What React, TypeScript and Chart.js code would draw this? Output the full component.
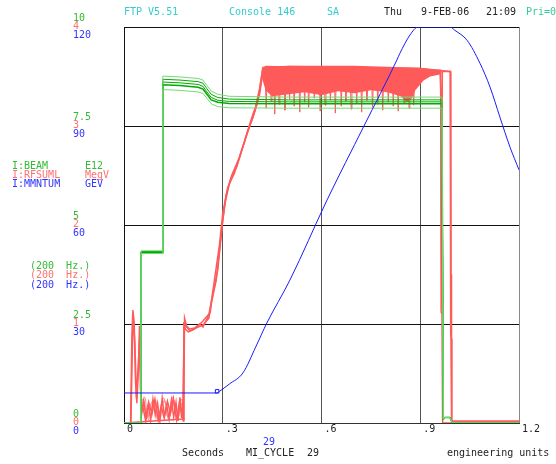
import React, { useEffect, useRef } from 'react';
import { Chart, registerables } from 'chart.js';

Chart.register(...registerables);

// ---------- axis ticks ----------
const xTickVals = [0, 0.3, 0.6, 0.9, 1.2];
const xTickLabels = ['0', '.3', '.6', '.9', '1.2'];
const beamTickVals = [0, 2.5, 5, 7.5, 10];
const beamTickLabels = ['0', '2.5', '5', '7.5', '10'];
const rfTickVals = [0, 1, 2, 3, 4];
const rfTickLabels = ['0', '1', '2', '3', '4'];
const momTickVals = [0, 30, 60, 90, 120];
const momTickLabels = ['0', '30', '60', '90', '120'];

// ---------- I:MMNTUM (GeV) ----------
const momT = [0, 0.28, 0.29, 0.3, 0.32, 0.3615, 0.4, 0.434, 0.504, 0.617, 0.729, 0.829, 0.838, 0.869, 0.893, 0.99, 1.005, 1.042, 1.0815, 1.112, 1.142, 1.1727, 1.2];
const momV = [9.1, 9.1, 9.6, 10.3, 11.8, 15.2, 23, 30.3, 43.3, 67.6, 90, 110, 112, 117.6, 120, 120, 119, 116, 109, 101.8, 92.7, 83.6, 76.7];
const momMarkT = [0.283];
const momMarkV = [9.6];

// ---------- I:BEAM (E12) ----------
const beamT = [0, 0.051, 0.052, 0.117, 0.118, 0.17, 0.225, 0.24, 0.252, 0.265, 0.285, 0.32, 0.5, 0.7, 0.9, 0.966, 0.97, 0.975, 0.99, 0.998, 1.2];
const beamA = [0, 0, 4.35, 4.35, 8.76, 8.74, 8.7, 8.66, 8.52, 8.38, 8.3, 8.25, 8.23, 8.23, 8.23, 8.23, 0.1, 0.14, 0.14, 0, 0];
const beamB = [0, 0, 4.33, 4.33, 8.68, 8.66, 8.62, 8.58, 8.44, 8.3, 8.22, 8.18, 8.16, 8.16, 8.16, 8.16, 0.1, 0.14, 0.14, 0, 0];
const beamC = [0, 0, 4.31, 4.31, 8.61, 8.59, 8.55, 8.5, 8.36, 8.22, 8.15, 8.12, 8.11, 8.11, 8.11, 8.11, 0.1, 0.14, 0.14, 0, 0];
const beamD = [0, 0, 4.3, 4.3, 8.54, 8.52, 8.48, 8.43, 8.3, 8.16, 8.1, 8.07, 8.06, 8.06, 8.06, 8.06, 0.1, 0.14, 0.14, 0, 0];
const beamE = [0, 0, 4.28, 4.28, 8.42, 8.4, 8.36, 8.32, 8.2, 8.06, 7.99, 7.96, 7.95, 7.95, 7.95, 7.95, 0.1, 0.14, 0.14, 0, 0];

// ---------- I:RFSUML (MegV) ----------
const rfStartT1 = [0, 0.02, 0.024, 0.027, 0.031, 0.035, 0.039, 0.044, 0.047, 0.05, 0.054, 0.06, 0.067, 0.074, 0.081, 0.088, 0.095, 0.102, 0.109, 0.116, 0.123, 0.13, 0.137, 0.144, 0.151, 0.158, 0.164, 0.17, 0.175, 0.179, 0.181, 0.184, 0.19, 0.2, 0.215, 0.23, 0.24, 0.262, 0.267, 0.28, 0.298, 0.307, 0.322, 0.343, 0.374, 0.392, 0.407, 0.416, 0.422];
const rfStartV1 = [0, 0, 0.9, 1.14, 1.0, 0.42, 0.2, 0.55, 0.98, 0.35, 0.1, 0.22, 0.05, 0.19, 0.03, 0.24, 0.08, 0.2, 0.02, 0.25, 0.07, 0.18, 0.04, 0.23, 0.06, 0.21, 0.02, 0.26, 0.05, 0.2, 0.04, 1.06, 0.98, 0.95, 0.96, 1.0, 0.97, 1.12, 1.24, 1.44, 1.99, 2.22, 2.45, 2.59, 2.93, 3.09, 3.26, 3.45, 3.59];
const rfPlatT1 = [0.5, 0.7, 0.9, 0.95];
const rfPlatV1 = [3.6, 3.59, 3.58, 3.56];
const rfEndT1 = [0.962, 0.9635, 0.966, 0.968, 1.2];
const rfEndV1 = [3.56, 1.12, 1.1, 0, 0];

const rfStartT2 = [0, 0.021, 0.025, 0.028, 0.033, 0.038, 0.045, 0.048, 0.052, 0.058, 0.066, 0.075, 0.085, 0.094, 0.104, 0.113, 0.122, 0.132, 0.141, 0.15, 0.16, 0.168, 0.176, 0.18, 0.182, 0.186, 0.195, 0.21, 0.225, 0.24, 0.258, 0.27, 0.285, 0.3, 0.31, 0.327, 0.35, 0.38, 0.398, 0.412, 0.42, 0.425];
const rfStartV2 = [0, 0, 0.7, 1.1, 0.8, 0.25, 0.7, 0.9, 0.2, 0.15, 0.02, 0.21, 0.09, 0.24, 0.03, 0.17, 0.05, 0.22, 0.1, 0.25, 0.03, 0.2, 0.08, 0.02, 1.02, 0.95, 0.92, 0.94, 0.98, 1.03, 1.1, 1.3, 1.55, 2.05, 2.3, 2.5, 2.68, 2.98, 3.15, 3.32, 3.5, 3.58];
const rfPlatT2 = [0.5, 0.7, 0.9, 0.96];
const rfPlatV2 = [3.6, 3.6, 3.58, 3.56];
const rfEndT2 = [0.991, 0.9925, 0.994, 0.996, 1.2];
const rfEndV2 = [3.55, 0.9, 0.85, 0.01, 0.01];

const rfT3 = [0, 0.178, 0.183, 0.2, 0.24, 0.258, 0.272, 0.29, 0.3, 0.315, 0.335, 0.36, 0.385, 0.4, 0.412, 0.42, 0.43, 0.96, 0.964, 0.9655, 0.967, 0.992, 0.9935, 0.995, 1.2];
const rfV3 = [0, 0.04, 1.0, 0.93, 0.99, 1.06, 1.38, 1.8, 2.12, 2.38, 2.52, 2.78, 3.05, 3.2, 3.38, 3.55, 3.6, 3.56, 3.2, 1.15, 3.55, 3.55, 1.5, 0.02, 0.02];

const rfLoopT = [0.05, 0.058, 0.066, 0.072, 0.08, 0.09, 0.098, 0.105, 0.112, 0.12, 0.128, 0.135, 0.142, 0.15, 0.157, 0.165, 0.172, 0.178, 0.183];
const rfLoopV = [0.15, 0.24, 0.12, 0.05, 0.18, 0.22, 0.08, 0.02, 0.14, 0.25, 0.16, 0.04, 0.1, 0.23, 0.18, 0.06, 0.21, 0.12, 0.03];
const rfLoopT2 = [0.05, 0.056, 0.063, 0.07, 0.078, 0.086, 0.094, 0.101, 0.109, 0.117, 0.124, 0.132, 0.14, 0.147, 0.155, 0.162, 0.17, 0.176, 0.182];
const rfLoopV2 = [0.05, 0.2, 0.26, 0.1, 0.02, 0.16, 0.24, 0.12, 0.04, 0.2, 0.22, 0.07, 0.15, 0.26, 0.1, 0.03, 0.18, 0.24, 0.08];

// dense flat-top envelope and its downward spikes
const rfBandT = [0.418, 0.43, 0.45, 0.5, 0.55, 0.6, 0.65, 0.7, 0.75, 0.8, 0.84, 0.86, 0.875, 0.885, 0.9, 0.91, 0.93, 0.96];
const rfBandHi = [3.58, 3.6, 3.6, 3.6, 3.6, 3.6, 3.6, 3.59, 3.59, 3.59, 3.58, 3.58, 3.58, 3.58, 3.57, 3.57, 3.56, 3.56];
const rfBandLo = [3.5, 3.36, 3.3, 3.32, 3.34, 3.31, 3.35, 3.33, 3.36, 3.34, 3.3, 3.24, 3.28, 3.36, 3.42, 3.46, 3.5, 3.52];
const rfSpikeT = [0.432, 0.447, 0.458, 0.471, 0.489, 0.503, 0.517, 0.534, 0.549, 0.561, 0.578, 0.596, 0.611, 0.627, 0.642, 0.66, 0.674, 0.69, 0.707, 0.722, 0.738, 0.755, 0.771, 0.786, 0.803, 0.818, 0.833, 0.851, 0.866, 0.88];
const rfSpikeV = [3.18, 3.25, 3.12, 3.22, 3.16, 3.27, 3.2, 3.14, 3.24, 3.19, 3.28, 3.15, 3.21, 3.26, 3.13, 3.2, 3.25, 3.17, 3.23, 3.14, 3.26, 3.19, 3.22, 3.16, 3.24, 3.2, 3.15, 3.23, 3.18, 3.21];

// ---------- colours ----------
const TEAL = '#33cccc';
const GREEN_TXT = '#33bb33';
const RED_TXT = '#ff7070';
const BLUE_TXT = '#3333ff';
const DARK = '#222222';
const GREEN_DARK = '#00aa00';
const GREEN_LIGHT = '#77d877';
const RED_LINE = '#ff5a5a';
const RED_LIGHT = '#ff8080';
const BLUE_LINE = '#1a1aff';
const FONT = '10px "DejaVu Sans Mono", monospace';

const zip = (t: number[], v: number[]) => t.map((x, i) => ({ x, y: v[i] }));
const spikes = (t: number[], v: number[], base: number, half: number) =>
  t.flatMap((x, i) => [
    { x: x - half, y: base },
    { x, y: v[i] },
    { x: x + half, y: base },
  ]);

const textPlugin = {
  id: 'acnetTexts',
  afterDraw(chart: any) {
    const ctx = chart.ctx as CanvasRenderingContext2D;
    ctx.save();
    ctx.font = FONT;
    ctx.textBaseline = 'middle';
    ctx.textAlign = 'left';
    const put = (s: string, x: number, y: number, c: string) => {
      ctx.fillStyle = c;
      ctx.fillText(s, x, y);
    };
    // header
    put('FTP V5.51', 124, 12, TEAL);
    put('Console 146', 229, 12, TEAL);
    put('SA', 327, 12, TEAL);
    put('Thu', 384, 12, DARK);
    put('9-FEB-06', 421, 12, DARK);
    put('21:09', 486, 12, DARK);
    put('Pri=0', 526, 12, '#33cc99');

    // stacked y tick labels
    const yB = chart.scales.yB;
    const yR = chart.scales.yR;
    const yM = chart.scales.yM;
    beamTickVals.forEach((v, i) => put(beamTickLabels[i], 73, yB.getPixelForValue(v) - 8.5, GREEN_TXT));
    rfTickVals.forEach((v, i) => put(rfTickLabels[i], 73, yR.getPixelForValue(v) - 0.5, RED_TXT));
    momTickVals.forEach((v, i) => put(momTickLabels[i], 73, yM.getPixelForValue(v) + 8.5, BLUE_TXT));

    // legend
    put('I:BEAM', 12, 166, GREEN_TXT);
    put('E12', 85, 166, GREEN_TXT);
    put('I:RFSUML', 12, 175, RED_TXT);
    put('MegV', 85, 175, RED_TXT);
    put('I:MMNTUM', 12, 184, BLUE_TXT);
    put('GEV', 85, 184, BLUE_TXT);

    put('(200  Hz.)', 30, 266, GREEN_TXT);
    put('(200  Hz.)', 30, 275.5, RED_TXT);
    put('(200  Hz.)', 30, 285, BLUE_TXT);

    // footer
    put('29', 263, 442, BLUE_TXT);
    put('Seconds', 182, 453, DARK);
    put('MI_CYCLE', 246, 453, DARK);
    put('29', 307, 453, DARK);
    put('engineering units', 447, 453, DARK);
    ctx.restore();
  },
};

const line = (data: any[], color: string, yAxisID: string, extra: any = {}) => ({
  data,
  borderColor: color,
  backgroundColor: color,
  borderWidth: 1,
  pointRadius: 0,
  tension: 0,
  fill: false,
  yAxisID,
  ...extra,
});

export default function App() {
  const ref = useRef<HTMLCanvasElement>(null);

  useEffect(() => {
    if (!ref.current) return;
    const datasets: any[] = [
      line(zip(momT, momV), BLUE_LINE, 'yM', { cubicInterpolationMode: 'monotone' }),
      line(zip(momMarkT, momMarkV), BLUE_LINE, 'yM', { pointRadius: 2.5, pointStyle: 'rect', pointBorderWidth: 1, pointBackgroundColor: 'rgba(0,0,0,0)', showLine: false }),
      line(zip(beamT, beamA), GREEN_LIGHT, 'yB'),
      line(zip(beamT, beamE), GREEN_LIGHT, 'yB'),
      line(zip(beamT, beamB), GREEN_DARK, 'yB'),
      line(zip(beamT, beamC), GREEN_DARK, 'yB'),
      line(zip(beamT, beamD), GREEN_DARK, 'yB', { borderWidth: 1.5 }),
      line([...zip(rfStartT1, rfStartV1), ...zip(rfPlatT1, rfPlatV1), ...zip(rfEndT1, rfEndV1)], RED_LINE, 'yR', { borderWidth: 1.5 }),
      line([...zip(rfStartT2, rfStartV2), ...zip(rfPlatT2, rfPlatV2), ...zip(rfEndT2, rfEndV2)], RED_LINE, 'yR', { borderWidth: 1.5 }),
      line(zip(rfT3, rfV3), RED_LINE, 'yR', { borderWidth: 1.5 }),
      line(zip(rfLoopT, rfLoopV), RED_LIGHT, 'yR', { tension: 0.5 }),
      line(zip(rfLoopT2, rfLoopV2), RED_LIGHT, 'yR', { tension: 0.5 }),
      line(spikes(rfSpikeT, rfSpikeV, 3.45, 0.0025), RED_LINE, 'yR'),
      line(zip(rfBandT, rfBandHi), 'rgba(255,90,90,0)', 'yR', { borderWidth: 0, fill: '+1', backgroundColor: 'rgb(255,90,90)' }),
      line(zip(rfBandT, rfBandLo), 'rgba(255,90,90,0)', 'yR', { borderWidth: 0 }),
    ];

    const chart = new Chart(ref.current, {
      type: 'line',
      data: { datasets },
      options: {
        animation: false,
        responsive: false,
        events: [],
        layout: { padding: { left: 124, right: 37, top: 27, bottom: 21 } },
        plugins: {
          legend: { display: false },
          tooltip: { enabled: false },
          title: { display: false },
        },
        scales: {
          x: {
            type: 'linear',
            min: 0,
            max: 1.2,
            afterBuildTicks: (s: any) => {
              s.ticks = xTickVals.map((v) => ({ value: v }));
            },
            afterFit: (s: any) => {
              s.height = 20;
            },
            grid: {
              color: (c: any) => (c.tick && c.tick.value === 0 ? '#111' : c.tick && c.tick.value === 1.2 ? '#888' : '#555'),
              drawTicks: false,
              lineWidth: 1,
            },
            border: { display: true, color: '#333' },
            ticks: {
              callback: (_v: any, i: number) => xTickLabels[i],
              align: 'start',
              labelOffset: 3,
              padding: 0,
              color: DARK,
              font: { family: 'DejaVu Sans Mono', size: 10 },
              autoSkip: false,
              maxRotation: 0,
            },
          },
          yB: {
            type: 'linear',
            position: 'left',
            min: 0,
            max: 10,
            afterBuildTicks: (s: any) => {
              s.ticks = beamTickVals.map((v) => ({ value: v }));
            },
            afterFit: (s: any) => {
              s.width = 0;
            },
            ticks: { display: false },
            grid: { color: '#111', drawTicks: false, lineWidth: 1 },
            border: { display: true, color: '#111' },
          },
          yR: { type: 'linear', display: false, min: 0, max: 4 },
          yM: { type: 'linear', display: false, min: 0, max: 120 },
        },
      } as any,
      plugins: [textPlugin],
    });
    return () => chart.destroy();
  }, []);

  return (
    <div style={{ position: 'absolute', left: 0, top: 0, width: 556, height: 464, background: '#fff' }}>
      <canvas ref={ref} width={556} height={464} style={{ display: 'block', width: 556, height: 464 }} />
    </div>
  );
}
